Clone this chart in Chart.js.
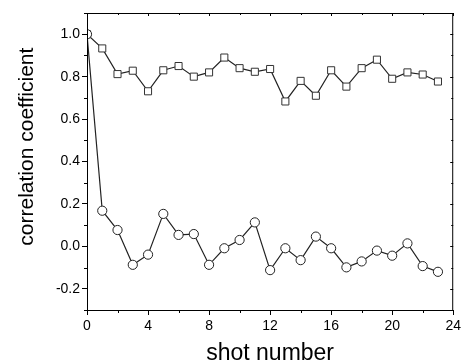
<!DOCTYPE html>
<html>
<head>
<meta charset="utf-8">
<script src="https://cdn.jsdelivr.net/npm/chart.js@4/dist/chart.umd.min.js"></script>
<style>
  html, body { margin: 0; padding: 0; background: #fff; }
  #wrap { width: 464px; height: 364px; }
</style>
</head>
<body>
<div id="wrap"><canvas id="corrChart"></canvas></div>
<script>
// shot index
const shots = [0,1,2,3,4,5,6,7,8,9,10,11,12,13,14,15,16,17,18,19,20,21,22,23];

// square markers (upper series)
const squareValues = [1.0,0.933,0.812,0.828,0.731,0.83,0.85,0.80,0.82,0.89,0.84,0.823,0.836,0.683,
                      0.78,0.71,0.83,0.753,0.84,0.88,0.79,0.82,0.81,0.777];

// circle markers (lower series)
const circleValues = [1.0,0.168,0.077,-0.087,-0.039,0.153,0.054,0.058,-0.087,-0.009,0.030,0.113,-0.112,
                      -0.009,-0.065,0.046,-0.009,-0.099,-0.071,-0.020,-0.044,0.014,-0.093,-0.120];

// tick labels
const xTicks = [0,4,8,12,16,20,24];
const yTicks = [-0.2,0.0,0.2,0.4,0.6,0.8,1.0];
const xMinor = [2,6,10,14,18,22];
const yMinor = [-0.3,-0.1,0.1,0.3,0.5,0.7,0.9,1.1];

const yTitle = "correlation coefficient";

const toPoints = vals => vals.map((v, i) => ({ x: shots[i], y: v }));

// frame, minor ticks, y title (sits above centre in the original)
const framePlugin = {
    id: "frame",
    afterDraw(chart) {
        const c = chart.ctx;
        const a = chart.chartArea;
        const xs = chart.scales.x;
        const ys = chart.scales.y;
        c.save();
        c.strokeStyle = "#000";
        c.lineWidth = 1;
        c.strokeRect(a.left + 0.5, a.top + 0.5, a.right - a.left - 1, a.bottom - a.top);
        c.beginPath();
        // minor ticks bottom / top
        xMinor.forEach(v => {
            const px = Math.round(xs.getPixelForValue(v)) + 0.5;
            c.moveTo(px, a.bottom); c.lineTo(px, a.bottom + 3);
            c.moveTo(px, a.top); c.lineTo(px, a.top + 2);
        });
        xTicks.forEach(v => {
            const px = Math.round(xs.getPixelForValue(v)) + 0.5;
            c.moveTo(px, a.top); c.lineTo(px, a.top + 3);
        });
        // minor ticks left / right
        yMinor.forEach(v => {
            const py = Math.round(ys.getPixelForValue(v)) + 0.5;
            c.moveTo(a.left, py); c.lineTo(a.left - 3, py);
            c.moveTo(a.right, py); c.lineTo(a.right - 2, py);
        });
        yTicks.forEach(v => {
            const py = Math.round(ys.getPixelForValue(v)) + 0.5;
            c.moveTo(a.right, py); c.lineTo(a.right - 3, py);
        });
        c.stroke();

        // y title
        c.translate(27, ys.getPixelForValue(0.47));
        c.rotate(-Math.PI / 2);
        c.fillStyle = "#000";
        c.font = "21px 'Liberation Sans', Arial";
        c.textAlign = "center";
        c.textBaseline = "middle";
        c.fillText(yTitle, 0, 0);
        c.restore();
    }
};

const ctx = document.getElementById("corrChart");

new Chart(ctx, {
    type: "scatter",
    data: {
        datasets: [
            {
                label: "circles",
                data: toPoints(circleValues),
                showLine: true,
                borderColor: "#222",
                borderWidth: 1.2,
                pointStyle: "circle",
                pointRadius: 4.6,
                pointBackgroundColor: "#fff",
                pointBorderColor: "#222",
                pointBorderWidth: 1
            },
            {
                label: "squares",
                data: toPoints(squareValues),
                showLine: true,
                borderColor: "#222",
                borderWidth: 1.2,
                pointStyle: "rect",
                pointRadius: 5,
                pointBackgroundColor: "#fff",
                pointBorderColor: "#333",
                pointBorderWidth: 1
            }
        ]
    },
    options: {
        responsive: true,
        maintainAspectRatio: false,
        animation: false,
        layout: { padding: { top: 13, right: 10, left: 0, bottom: 0 } },
        plugins: {
            legend: { display: false },
            tooltip: { enabled: false }
        },
        scales: {
            x: {
                type: "linear",
                min: 0,
                max: 24,
                afterBuildTicks: s => { s.ticks = xTicks.map(v => ({ value: v })); },
                afterFit: s => { s.height = 54; },
                grid: { drawOnChartArea: false, drawTicks: true, tickLength: 5, color: "#000" },
                border: { display: true, color: "#000" },
                ticks: {
                    color: "#000",
                    padding: 3,
                    maxRotation: 0,
                    font: { family: "Liberation Sans, Arial", size: 14 }
                },
                title: {
                    display: true,
                    text: "shot number",
                    color: "#000",
                    padding: { top: 0, bottom: -3 },
                    font: { family: "Liberation Sans, Arial", size: 23 }
                }
            },
            y: {
                min: -0.3,
                max: 1.1,
                afterBuildTicks: s => { s.ticks = yTicks.map(v => ({ value: v })); },
                afterFit: s => { s.width = 87; },
                grid: { drawOnChartArea: false, drawTicks: true, tickLength: 5, color: "#000" },
                border: { display: true, color: "#000" },
                ticks: {
                    color: "#000",
                    padding: 2,
                    font: { family: "Liberation Sans, Arial", size: 14 },
                    callback: v => v.toFixed(1)
                },
                title: { display: false }
            }
        }
    },
    plugins: [framePlugin]
});
</script>
</body>
</html>
